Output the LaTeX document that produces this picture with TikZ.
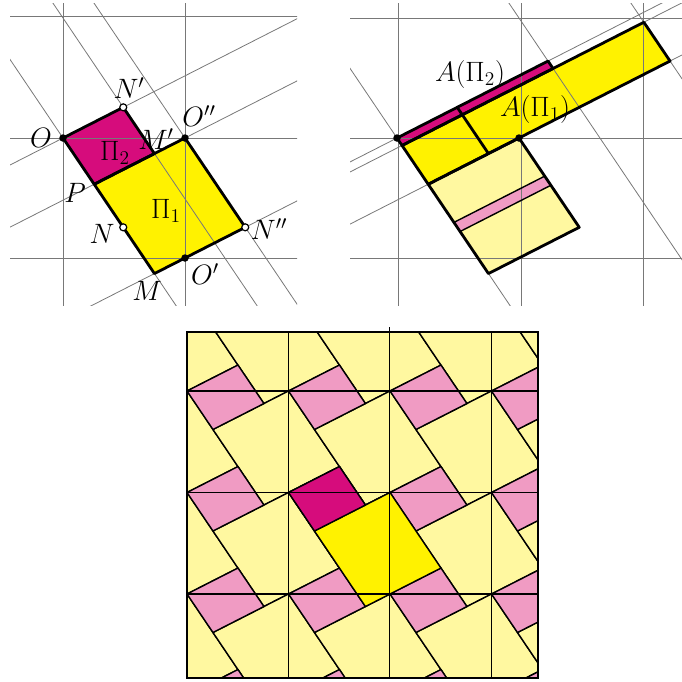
\documentclass[tikz,border=0pt]{standalone}
\usetikzlibrary{calc}
\definecolor{mag}{RGB}{214,12,124}
\definecolor{yel}{RGB}{255,242,0}
\definecolor{lyel}{RGB}{255,248,160}
\definecolor{lpink}{RGB}{240,155,195}
\definecolor{gl}{RGB}{120,120,120}
\begin{document}
\begin{tikzpicture}[x=1pt,y=-1pt,
  gline/.style={draw=gl,line width=0.8pt},
  thk/.style={draw=black,line width=2.8pt,line join=round},
  tl/.style={draw=black,line width=1.4pt,line join=round},
  gridb/.style={draw=black,line width=1.7pt},
  dotb/.style={circle,fill=black,inner sep=0pt,minimum size=7.5pt},
  doto/.style={circle,fill=white,draw=black,line width=1.2pt,inner sep=0pt,minimum size=7pt},
  lbl/.style={inner sep=0pt,font=\fontsize{20}{24}\selectfont,scale=1.35,transform shape}]
\useasboundingbox (0,0) rectangle (682,681);
\coordinate (u) at ({cos(27)},{-sin(27)});
\coordinate (v) at ({cos(56)},{sin(56)});
\pgfmathsetmacro\A{122*sin(56)/sin(83)}
\pgfmathsetmacro\b{122*sin(27)/sin(83)}
\pgfmathsetmacro\B{120*cos(27)/sin(83)}
\pgfmathsetmacro\a{120*cos(56)/sin(83)}
\pgfmathsetmacro\aA{\a+\A}
\pgfmathsetmacro\aAA{\a+2*\A}
% ---------------- left panel ----------------
\coordinate (O) at (63,138);
\coordinate (Np) at ($(O)+\a*(u)$);
\coordinate (P) at ($(O)+\b*(v)$);
\coordinate (Mp) at ($(Np)+\b*(v)$);
\coordinate (Opp) at ($(P)+\A*(u)$);
\coordinate (Npp) at ($(Opp)+\B*(v)$);
\coordinate (M) at ($(P)+\B*(v)$);
\coordinate (N) at ($(O)+\B*(v)$);
\coordinate (Op) at ($(Opp)+\B*(v)-\a*(u)$);
\fill[yel] (P)--(Opp)--(Npp)--(M)--cycle;
\fill[mag] (O)--(Np)--(Mp)--(P)--cycle;
\begin{scope}
\clip (10,3) rectangle (297,305);
\foreach \y in {16,138,258} \draw[gline] (0,\y)--(320,\y);
\foreach \x in {63,185} \draw[gline] (\x,0)--(\x,320);
\draw[gline] ($(O)-400*(u)$)--($(O)+400*(u)$);
\draw[gline] ($(P)-400*(u)$)--($(P)+400*(u)$);
\draw[gline] ($(M)-400*(u)$)--($(M)+400*(u)$);
\draw[gline] ($(O)-400*(v)$)--($(O)+400*(v)$);
\draw[gline] ($(Np)-400*(v)$)--($(Np)+400*(v)$);
\draw[gline] ($(Opp)-400*(v)$)--($(Opp)+400*(v)$);
\end{scope}
\draw[thk] (O)--(Np)--(Mp)--(P)--cycle;
\draw[thk] (P)--(Opp)--(Npp)--(M)--cycle;
\node[dotb] (dO) at (O) {};
\node[dotb] (dOpp) at (Opp) {};
\node[dotb] (dOp) at (Op) {};
\node[doto] (dNp) at (Np) {};
\node[doto] (dN) at (N) {};
\node[doto] (dNpp) at (Npp) {};
\node[lbl] (lO) at (41,138) {$O$};
\node[lbl] (lNp) at (129,88) {$N'$};
\node[lbl] (lOpp) at (199,116) {$O''$};
\node[lbl] (lMp) at (156,139) {$M'$};
\node[lbl] (lP2) at (115,153) {$\Pi_2$};
\node[lbl] (lP) at (75,193) {$P$};
\node[lbl] (lP1) at (166,211) {$\Pi_1$};
\node[lbl] (lN) at (102,234) {$N$};
\node[lbl] (lNpp) at (269,229) {$N''$};
\node[lbl] (lOp) at (205,274) {$O'$};
\node[lbl] (lM) at (147,291) {$M$};
% ---------------- right panel ----------------
\coordinate (R) at (397,138);
\coordinate (Rn) at ($(R)+\a*(u)$);
\coordinate (Rp) at ($(R)+\b*(v)$);
\coordinate (Rmp) at ($(Rn)+\b*(v)$);
\coordinate (Ropp) at ($(Rp)+\A*(u)$);
\coordinate (Rnpp) at ($(Ropp)+\B*(v)$);
\coordinate (Rm) at ($(Rp)+\B*(v)$);
\coordinate (Rd) at ($(R)+9*(v)$);
\coordinate (S1) at ($(R)+\aA*(u)$);
\coordinate (S2) at ($(Rd)+\aA*(u)$);
\coordinate (T1) at ($(Rd)+\aAA*(u)$);
\coordinate (T2) at ($(Rp)+\aAA*(u)$);
\coordinate (K1) at ($(Rp)+46*(v)$);
\coordinate (K2) at ($(K1)+\A*(u)$);
\coordinate (K3) at ($(K2)+11*(v)$);
\coordinate (K4) at ($(K1)+11*(v)$);
\fill[lyel] (Rp)--(Ropp)--(Rnpp)--(Rm)--cycle;
\fill[lpink] (K1)--(K2)--(K3)--(K4)--cycle;
\fill[yel] (Rd)--(T1)--(T2)--(Rp)--cycle;
\fill[mag] (R)--(S1)--(S2)--(Rd)--cycle;
\begin{scope}
\clip (350,3) rectangle (682,305);
\foreach \y in {18,138,258} \draw[gline] (340,\y)--(690,\y);
\foreach \x in {398,521,643} \draw[gline] (\x,0)--(\x,320);
\draw[gline] ($(R)-400*(u)$)--($(R)+400*(u)$);
\draw[gline] ($(Rd)-400*(u)$)--($(Rd)+400*(u)$);
\draw[gline] ($(Rp)-400*(u)$)--($(Rp)+400*(u)$);
\draw[gline] ($(R)-400*(v)$)--($(R)+400*(v)$);
\draw[gline] ($(S1)-400*(v)$)--($(S1)+400*(v)$);
\draw[gline] ($(T1)-400*(v)$)--($(T1)+400*(v)$);
\end{scope}
\draw[tl] (K1)--(K2)--(K3)--(K4)--cycle;
\draw[thk] (Rp)--(Ropp)--(Rnpp)--(Rm)--cycle;
\draw[thk] (Rd)--(T1)--(T2)--(Rp)--cycle;
\draw[thk] (R)--(S1)--(S2)--(Rd)--cycle;
\draw[thk] (Rn)--(Rmp);
\node[dotb] (dR) at (R) {};
\node[dotb] (dRopp) at (Ropp) {};
\node[lbl] (lA2) at (470,74) {$A(\Pi_2)$};
\node[lbl] (lA1) at (535,109) {$A(\Pi_1)$};
% ---------------- bottom tiling ----------------
\pgfmathsetmacro\Ab{101.5*sin(56)/sin(83)}
\pgfmathsetmacro\bb{101.5*sin(27)/sin(83)}
\pgfmathsetmacro\Bb{101.5*cos(27)/sin(83)}
\pgfmathsetmacro\ab{101.5*cos(56)/sin(83)}
\begin{scope}
\clip (187,332) rectangle (538,678);
\foreach \i in {-3,...,3}{
 \foreach \j in {-3,...,3}{
  \coordinate (Q0) at ({288.5+\i*101.5},{492.5+\j*101.5});
  \coordinate (Q1) at ($(Q0)+\ab*(u)$);
  \coordinate (Q2) at ($(Q1)+\bb*(v)$);
  \coordinate (Q3) at ($(Q0)+\bb*(v)$);
  \coordinate (Q4) at ($(Q3)+\Ab*(u)$);
  \coordinate (Q5) at ($(Q4)+\Bb*(v)$);
  \coordinate (Q6) at ($(Q3)+\Bb*(v)$);
  \filldraw[tl,fill=lyel] (Q3)--(Q4)--(Q5)--(Q6)--cycle;
  \filldraw[tl,fill=lpink] (Q0)--(Q1)--(Q2)--(Q3)--cycle;
 }}
\coordinate (C0) at (288.5,492.5);
\coordinate (C1) at ($(C0)+\ab*(u)$);
\coordinate (C2) at ($(C1)+\bb*(v)$);
\coordinate (C3) at ($(C0)+\bb*(v)$);
\coordinate (C4) at ($(C3)+\Ab*(u)$);
\coordinate (C5) at ($(C4)+\Bb*(v)$);
\coordinate (C6) at ($(C3)+\Bb*(v)$);
\filldraw[tl,fill=yel] (C3)--(C4)--(C5)--(C6)--cycle;
\filldraw[tl,fill=mag] (C0)--(C1)--(C2)--(C3)--cycle;
\foreach \x in {187,288.5,389.5,491.5} \draw[gridb] (\x,332)--(\x,678);
\foreach \y in {391,492.5,594} \draw[gridb] (187,\y)--(538,\y);
\end{scope}
\draw[gridb] (389.5,327)--(389.5,332);
\draw[gridb] (187,332) rectangle (538,678);
\end{tikzpicture}
\end{document}
